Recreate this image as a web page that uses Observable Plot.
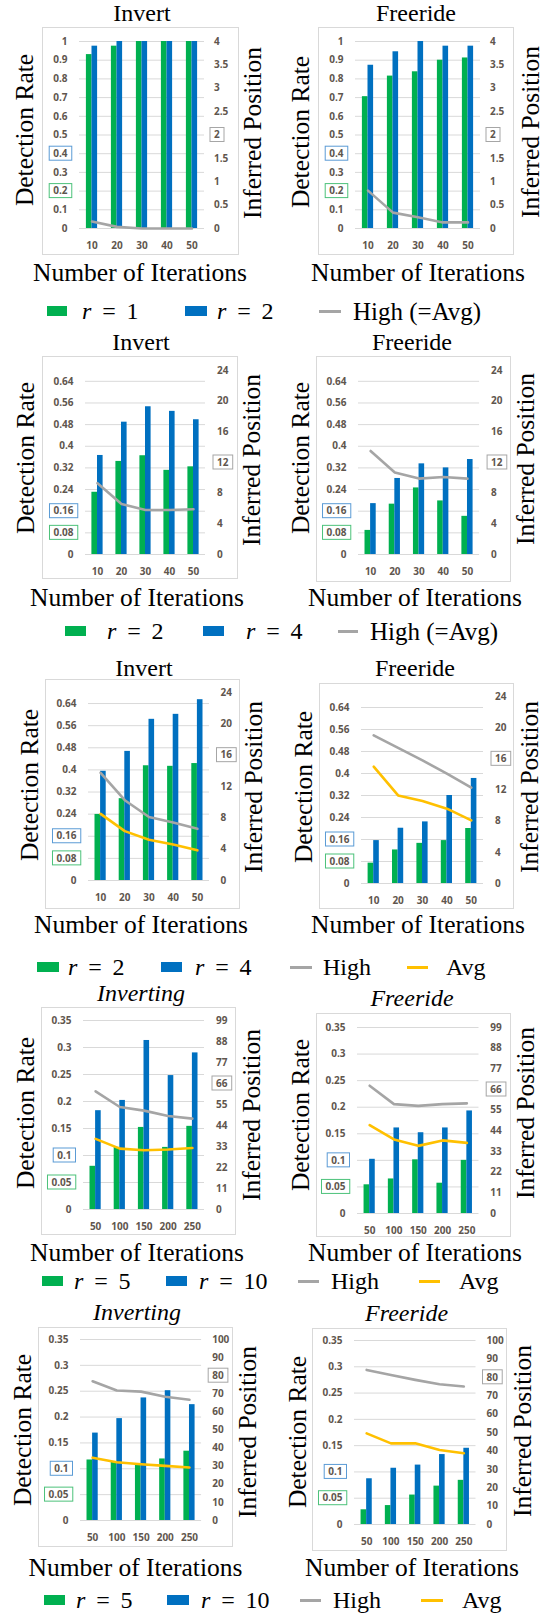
<!DOCTYPE html>
<html><head><meta charset="utf-8">
<script src="https://cdn.jsdelivr.net/npm/d3@7"></script>
<script src="https://cdn.jsdelivr.net/npm/@observablehq/plot@0.6"></script>
<style>
body{margin:0;background:#fff;}
#root{position:relative;width:552px;height:1615px;overflow:hidden;background:#fff;}
.t{position:absolute;font-family:"Liberation Serif","Times New Roman",serif;font-weight:400;color:#000;white-space:nowrap;line-height:1;transform:translate(-50%,-50%);}
.rot{transform:translate(-50%,-50%) rotate(-90deg);}
.box{position:absolute;border:1px solid #d9d9d9;box-sizing:border-box;}
.sw{position:absolute;height:10px;}
.ln{position:absolute;height:3px;}
.lt{position:absolute;font-family:"Liberation Serif","Times New Roman",serif;font-weight:400;font-size:24px;line-height:1;transform:translateY(-50%);white-space:nowrap;color:#000;}
</style></head><body><div id="root"></div><script>
// ---------- categories & ticks ----------
const itersA = ["10","20","30","40","50"];
const itersB = ["50","100","150","200","250"];
const leftTicks1 = [0,0.1,0.2,0.3,0.4,0.5,0.6,0.7,0.8,0.9,1];
const rightTicks1 = [0,0.5,1,1.5,2,2.5,3,3.5,4];
const leftTicks2 = [0,0.08,0.16,0.24,0.32,0.4,0.48,0.56,0.64];
const rightTicks2 = [0,4,8,12,16,20,24];
const leftTicks4 = [0,0.05,0.1,0.15,0.2,0.25,0.3,0.35];
const rightTicks4 = [0,11,22,33,44,55,66,77,88,99];
const rightTicks5 = [0,10,20,30,40,50,60,70,80,90,100];

// ---------- row 1 ----------
const inv1R1 = [0.93, 0.975, 1, 1, 1];
const inv1R2 = [0.975, 1, 1, 1, 1];
const inv1High = [0.15, 0.035, 0, 0, 0];
const free1R1 = [0.705, 0.815, 0.838, 0.9, 0.912];
const free1R2 = [0.873, 0.945, 1, 0.975, 0.975];
const free1High = [0.81, 0.34, 0.24, 0.13, 0.13];
// ---------- row 2 ----------
const inv2R2 = [0.23, 0.344, 0.365, 0.311, 0.324];
const inv2R4 = [0.366, 0.489, 0.546, 0.529, 0.498];
const inv2High = [9.3, 6.6, 5.8, 5.8, 5.9];
const free2R2 = [0.089, 0.186, 0.246, 0.198, 0.141];
const free2R4 = [0.188, 0.281, 0.335, 0.32, 0.351];
const free2High = [13.5, 10.7, 9.9, 10.1, 9.9];
// ---------- row 3 ----------
const inv3R2 = [0.239, 0.296, 0.415, 0.413, 0.423];
const inv3R4 = [0.395, 0.467, 0.583, 0.601, 0.654];
const inv3High = [13.75, 10.25, 8.1, 7.4, 6.6];
const inv3Avg = [8.5, 6.3, 5.2, 4.6, 3.85];
const free3R2 = [0.074, 0.122, 0.146, 0.156, 0.2];
const free3R4 = [0.156, 0.201, 0.224, 0.32, 0.382];
const free3High = [19.0, 17.4, 15.8, 14.1, 12.3];
const free3Avg = [15.0, 11.3, 10.6, 9.6, 8.1];
// ---------- row 4 ----------
const inv4R5 = [0.08, 0.115, 0.152, 0.115, 0.154];
const inv4R10 = [0.183, 0.202, 0.313, 0.248, 0.29];
const inv4High = [61.9, 53.7, 51.8, 49.0, 47.6];
const inv4Avg = [37.0, 31.9, 31.0, 31.4, 32.2];
const free4R5 = [0.054, 0.065, 0.101, 0.057, 0.1];
const free4R10 = [0.102, 0.161, 0.152, 0.161, 0.193];
const free4High = [68.0, 58.2, 57.3, 58.2, 58.6];
const free4Avg = [47.0, 39.4, 36.0, 38.9, 37.6];
// ---------- row 5 ----------
const inv5R5 = [0.117, 0.113, 0.107, 0.119, 0.134];
const inv5R10 = [0.169, 0.197, 0.237, 0.251, 0.224];
const inv5High = [76.9, 71.8, 71.2, 68.4, 66.7];
const inv5Avg = [34.7, 32.2, 31.1, 30.2, 29.3];
const free5R5 = [0.028, 0.036, 0.056, 0.073, 0.084];
const free5R10 = [0.087, 0.107, 0.113, 0.133, 0.145];
const free5High = [84.0, 81.3, 78.6, 76.2, 75.0];
const free5Avg = [49.5, 44.1, 44.1, 40.5, 38.7];

// ---------- legend labels ----------
const legend1 = ["r = 1", "r = 2", "High (=Avg)"];
const legend2 = ["r = 2", "r = 4", "High (=Avg)"];
const legend3 = ["r = 2", "r = 4", "High", "Avg"];
const legend45 = ["r = 5", "r = 10", "High", "Avg"];

const GREEN = "#00B050", BLUE = "#0070C0", GRAY = "#A5A5A5", GOLD = "#FFC000";

// ---------- panel layout ----------
const panels = [
  {cats: itersA, a: inv1R1, b: inv1R2, high: inv1High, avg: null, lT: leftTicks1, rT: rightTicks1, lMax: 1, rMax: 4, hl: ["0.4","0.2","2"], title: "Invert", it: false,
   gx: [78.5,203.5], y0: 228, yTop: 41, box: [42,27,239,255], tp: [142,13], dr: [25,130], ip: [253,133], noi: [140,273], rp: 9.5},
  {cats: itersA, a: free1R1, b: free1R2, high: free1High, avg: null, lT: leftTicks1, rT: rightTicks1, lMax: 1, rMax: 4, hl: ["0.4","0.2","2"], title: "Freeride", it: false,
   gx: [354.5,479.5], y0: 228, yTop: 41, box: [318,27,514,255], tp: [416,13], dr: [301,132], ip: [531,132], noi: [418,273], rp: 9.5},
  {cats: itersA, a: inv2R2, b: inv2R4, high: inv2High, avg: null, lT: leftTicks2, rT: rightTicks2, lMax: 0.68, rMax: 24, hl: ["0.16","0.08","12"], title: "Invert", it: false,
   gx: [85,205], y0: 554, yTop: 370, box: [41.5,356,237.6,579], tp: [141,342], dr: [26,458], ip: [252,460], noi: [137,598], rp: 11.5},
  {cats: itersA, a: free2R2, b: free2R4, high: free2High, avg: null, lT: leftTicks2, rT: rightTicks2, lMax: 0.68, rMax: 24, hl: ["0.16","0.08","12"], title: "Freeride", it: false,
   gx: [358.4,479.5], y0: 554, yTop: 370, box: [316,356,511,582], tp: [412,342], dr: [301,458], ip: [526,459], noi: [415,598], rp: 11.5},
  {cats: itersA, a: inv3R2, b: inv3R4, high: inv3High, avg: inv3Avg, lT: leftTicks2, rT: rightTicks2, lMax: 0.68, rMax: 24, hl: ["0.16","0.08","16"], title: "Invert", it: false,
   gx: [88,209], y0: 880, yTop: 692, box: [45,679,240,909], tp: [144,668], dr: [30,785], ip: [254,787], noi: [141,925], rp: 11},
  {cats: itersA, a: free3R2, b: free3R4, high: free3High, avg: free3Avg, lT: leftTicks2, rT: rightTicks2, lMax: 0.68, rMax: 24, hl: ["0.16","0.08","16"], title: "Freeride", it: false,
   gx: [361,483], y0: 883, yTop: 696, box: [319,683,514,909], tp: [415,668], dr: [303.5,787], ip: [530,787], noi: [418,925], rp: 11.5},
  {cats: itersB, a: inv4R5, b: inv4R10, high: inv4High, avg: inv4Avg, lT: leftTicks4, rT: rightTicks4, lMax: 0.35, rMax: 99, hl: ["0.1","0.05","66"], title: "Inverting", it: true,
   gx: [83,204], y0: 1209, yTop: 1020, box: [41,1007,236,1235], tp: [141,993], dr: [26,1113], ip: [252,1115], noi: [137,1253], rp: 11.5},
  {cats: itersB, a: free4R5, b: free4R10, high: free4High, avg: free4Avg, lT: leftTicks4, rT: rightTicks4, lMax: 0.35, rMax: 99, hl: ["0.1","0.05","66"], title: "Freeride", it: true,
   gx: [357.3,478.8], y0: 1213, yTop: 1027, box: [316,1013,510.5,1237], tp: [412,998], dr: [301,1115], ip: [526,1113], noi: [415,1253], rp: 11.2},
  {cats: itersB, a: inv5R5, b: inv5R10, high: inv5High, avg: inv5Avg, lT: leftTicks4, rT: rightTicks5, lMax: 0.35, rMax: 100, hl: ["0.1","0.05","80"], title: "Inverting", it: true,
   gx: [80.3,201.4], y0: 1520, yTop: 1339, box: [37.5,1327,233,1547], tp: [137,1312], dr: [23,1430], ip: [248,1432], noi: [135.5,1568], rp: 10.6},
  {cats: itersB, a: free5R5, b: free5R10, high: free5High, avg: free5Avg, lT: leftTicks4, rT: rightTicks5, lMax: 0.35, rMax: 100, hl: ["0.1","0.05","80"], title: "Freeride", it: true,
   gx: [353.8,475.3], y0: 1524, yTop: 1340, box: [311.6,1328,507,1551], tp: [406.6,1313], dr: [297.5,1432], ip: [523,1431], noi: [412,1568], rp: 10.5}
];

const legends = [
  {y: 311, labels: legend1, x: [[47,67],82,[185,207],217,[319,341],353], sizes: [24,24,25]},
  {y: 631, labels: legend2, x: [[65,86],107,[203,223.5],246,[338,358],370], sizes: [24,24,25]},
  {y: 967, labels: legend3, x: [[37,59],68,[161,182],195,[290,312],323,[407,428],446], sizes: [24,24,24,24]},
  {y: 1281, labels: legend45, x: [[41.5,62.7],74,[165.5,186.6],199,[297.5,318.6],331,[419,440],459], sizes: [24,24,24,24]},
  {y: 1600, labels: legend45, x: [[44,65],76,[167,189],201,[300,321],333,[421,443],462], sizes: [24,24,24,24]}
];

const root = document.getElementById("root");
const fmt = v => String(+v.toFixed(2));

function addDiv(cls, css, html) {
  const d = document.createElement("div");
  d.className = cls;
  Object.assign(d.style, css);
  d.innerHTML = html;
  root.appendChild(d);
  return d;
}

for (const p of panels) {
  addDiv("box", {left: p.box[0]+"px", top: p.box[1]+"px", width: (p.box[2]-p.box[0])+"px", height: (p.box[3]-p.box[1])+"px"}, "");
  const k = p.lMax / p.rMax;
  const rows = p.cats.map((c, i) => ({c, a: p.a[i], b: p.b[i], high: p.high[i] * k, avg: p.avg ? p.avg[i] * k : null}));
  const svgLeft = p.gx[0] - 48, svgTop = p.yTop - 12;
  const W = (p.gx[1] - p.gx[0]) + 96, H = (p.y0 - svgTop) + 32;
  const bw = (p.gx[1] - p.gx[0]) / p.cats.length;
  const barW = 5.6;
  const marks = [
    Plot.ruleY(p.lT, {stroke: "#D9D9D9", strokeWidth: 1}),
    Plot.barY(rows, {x: "c", y: "a", fill: GREEN, insetLeft: bw/2 - barW, insetRight: bw/2}),
    Plot.barY(rows, {x: "c", y: "b", fill: BLUE, insetLeft: bw/2, insetRight: bw/2 - barW}),
    Plot.line(rows, {x: "c", y: "high", stroke: GRAY, strokeWidth: 2.6})
  ];
  if (p.avg) marks.push(Plot.line(rows, {x: "c", y: "avg", stroke: GOLD, strokeWidth: 2.6}));
  marks.push(
    Plot.axisY(p.lT, {anchor: "left", tickSize: 0, tickPadding: 12, tickFormat: fmt, label: null}),
    Plot.axisY(p.rT.map(v => v * k), {anchor: "right", tickSize: 0, tickPadding: p.rp, tickFormat: d => fmt(d / k), label: null}),
    Plot.axisX({tickSize: 0, tickPadding: 13, label: null})
  );
  const svg = Plot.plot({
    width: W, height: H,
    marginLeft: p.gx[0] - svgLeft, marginRight: svgLeft + W - p.gx[1],
    marginTop: p.yTop - svgTop, marginBottom: svgTop + H - p.y0,
    x: {type: "band", domain: p.cats, padding: 0, round: false},
    y: {domain: [0, p.lMax]},
    style: {position: "absolute", left: svgLeft + "px", top: svgTop + "px", overflow: "visible", maxWidth: "none",
            background: "transparent", fontFamily: "'Open Sans', sans-serif", fontSize: "10px", fontWeight: "700", color: "#5f564e"},
    marks
  });
  root.appendChild(svg);
  // highlight boxes around selected tick labels
  const yS = svg.scale("y");
  const ns = "http://www.w3.org/2000/svg";
  const sr = svg.getBoundingClientRect();
  const groups = [...svg.querySelectorAll('g[aria-label="y-axis tick label"]')];
  const boxColors = ["#5B9BD5", "#4CC27A", "#A6A6A6"];
  p.hl.forEach((lab, j) => {
    const wantAnchor = j < 2 ? "end" : "start";
    for (const g of groups) {
      if (g.getAttribute("text-anchor") !== wantAnchor) continue;
      for (const t of g.querySelectorAll("text")) {
        if (t.textContent !== lab) continue;
        const tr = t.getBoundingClientRect();
        const cy = j < 2 ? yS.apply(+lab) : yS.apply(+lab * k);
        const r = document.createElementNS(ns, "rect");
        r.setAttribute("x", tr.left - sr.left - 4);
        r.setAttribute("y", cy - 7);
        r.setAttribute("width", tr.width + 8);
        r.setAttribute("height", 14);
        r.setAttribute("fill", "none");
        r.setAttribute("stroke", boxColors[j]);
        r.setAttribute("stroke-width", 1);
        svg.appendChild(r);
      }
    }
  });
  addDiv("t", {left: p.tp[0]+"px", top: p.tp[1]+"px", fontSize: "24px", fontStyle: p.it ? "italic" : "normal"}, p.title);
  addDiv("t rot", {left: p.dr[0]+"px", top: p.dr[1]+"px", fontSize: "25.5px"}, "Detection Rate");
  addDiv("t rot", {left: p.ip[0]+"px", top: p.ip[1]+"px", fontSize: "25.5px"}, "Inferred Position");
  addDiv("t", {left: p.noi[0]+"px", top: p.noi[1]+"px", fontSize: "25.5px"}, "Number of Iterations");
}

// legends
const legendColors = [GREEN, BLUE, GRAY, GOLD];
function labelHtml(s) {
  const m = s.match(/^r = (.+)$/);
  if (m) return '<i>r</i><span style="margin:0 0.45em">=</span>' + m[1];
  return s;
}
for (const L of legends) {
  L.labels.forEach((lab, i) => {
    const [x0, x1] = L.x[2*i];
    const tx = L.x[2*i+1];
    if (i >= 2) {
      addDiv("ln", {left: x0+"px", width: (x1-x0)+"px", top: (L.y - 1.5)+"px", background: legendColors[i]}, "");
    } else {
      addDiv("sw", {left: x0+"px", width: (x1-x0)+"px", top: (L.y - 5)+"px", background: legendColors[i]}, "");
    }
    addDiv("lt", {left: tx+"px", top: L.y+"px", fontSize: L.sizes[i]+"px"}, labelHtml(lab));
  });
}
</script></body></html>
